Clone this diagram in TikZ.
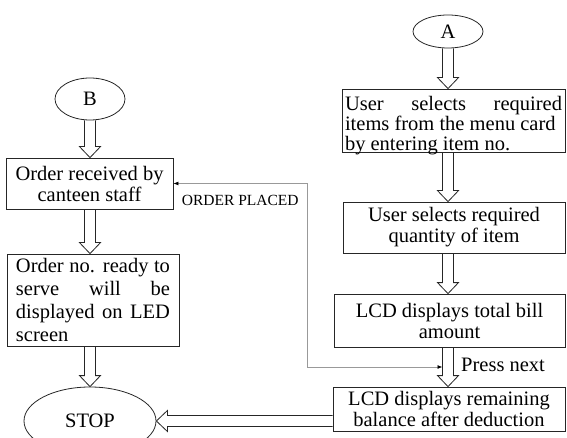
\documentclass[tikz,border=0pt]{standalone}
\usepackage{fontspec}
\setmainfont{Liberation Serif}
\usetikzlibrary{arrows.meta,positioning,calc,shapes.geometric}

\newcommand{\spreadline}[2]{\makebox[#1][s]{#2}}

\begin{document}
\begin{tikzpicture}[
  x=1pt, y=-1pt,
  font=\fontsize{20.5}{21}\selectfont,
  block/.style={draw=black!85, line width=0.8pt, align=center, inner xsep=3pt, inner ysep=0.5pt},
  term/.style={draw=black!85, line width=0.8pt, ellipse, inner sep=0pt},
  harr/.style={draw=black!85, line width=0.8pt,
    to path={let \p1=(\tikztostart), \p2=(\tikztotarget), \p3=($(\p2)!11pt!(\p1)$) in
      ($(\p1)!5.5pt!90:(\p2)$) -- ($(\p3)!5.5pt!90:(\p2)$) \tikztonodes
      -- ($(\p3)!10.5pt!90:(\p2)$) -- (\p2) -- ($(\p3)!10.5pt!-90:(\p2)$)
      -- ($(\p3)!5.5pt!-90:(\p2)$) -- ($(\p1)!5.5pt!-90:(\p2)$)}},
  link/.style={draw=black!40, line width=0.8pt, {Latex[length=5pt,width=4pt,black]}-{Latex[length=5pt,width=4pt,black]}}
]
\useasboundingbox (0,0) rectangle (567,438);

% right column
\node[term, minimum width=70pt, minimum height=33pt] (A) at (448,31.5) {A};
\node[block, align=left, font=\fontsize{20.5}{20}\selectfont, minimum width=223pt, text height=61.5pt, text depth=0.5pt] (ubox1) at (453.5,120.5)
  {\spreadline{217pt}{User selects required}\\ items from the menu card\\ by entering item no.};
\node[block, minimum width=222pt, minimum height=51pt] (ubox2) at (454,227.5) {User selects required\\ quantity of item};
\node[block, minimum width=231pt, minimum height=53pt] (lcd1) at (449.5,320.5) {LCD displays total bill\\ amount};
\node[block, minimum width=232pt, minimum height=44pt] (lcd2) at (449,409) {LCD displays remaining\\ balance after deduction};

% left column
\node[term, minimum width=70pt, minimum height=42pt] (B) at (90,99) {B};
\node[block, minimum width=167pt, minimum height=51pt] (ord1) at (89.5,183.5) {Order received by\\ canteen staff};
\node[block, align=left, font=\fontsize{20.5}{23}\selectfont, minimum width=172pt, minimum height=92pt] (ord2) at (93,300)
  {\spreadline{154pt}{Order no. ready to}\\ \spreadline{154pt}{serve will be}\\ \spreadline{154pt}{displayed on LED}\\ screen};
\node[term, minimum width=132pt, minimum height=68pt] (stop) at (90,421) {STOP};

% flow
\draw[harr] (A.south) to (A.south |- ubox1.north);
\draw[harr] (A.south |- ubox1.south) to (A.south |- ubox2.north);
\draw[harr] (A.south |- ubox2.south) to (A.south |- lcd1.north);
\draw[harr] (A.south |- lcd1.south) to node[right=4pt, yshift=-3pt]{Press next} (A.south |- lcd2.north);
\draw[harr] (stop.east -| lcd2.west) to (stop.east);
\draw[harr] (B.south) to (B.south |- ord1.north);
\draw[harr] (B.south |- ord1.south) to (B.south |- ord2.north);
\draw[harr] (stop.north |- ord2.south) to (stop.north);

\coordinate (pn) at ($(A.south |- lcd1.south)!0.5!(A.south |- lcd2.north) + (-5.5,0)$);
\draw[link] (pn) -- ++(-135.5,0) |- node[pos=0.75, below=8pt, font=\fontsize{15.5}{17}\selectfont]{ORDER PLACED} (ord1.east);
\end{tikzpicture}
\end{document}
